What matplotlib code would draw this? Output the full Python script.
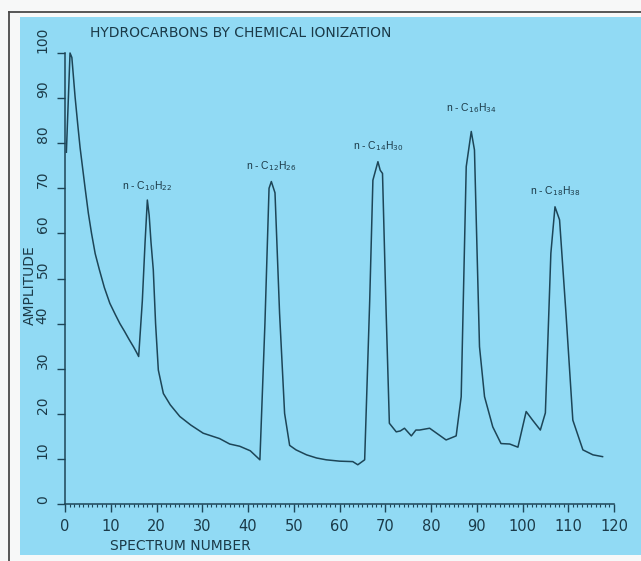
import matplotlib
matplotlib.use("Agg")
import matplotlib.pyplot as plt
from matplotlib.patches import Rectangle
from matplotlib.lines import Line2D
from matplotlib.ticker import MultipleLocator
from matplotlib import font_manager

# ---------------- data ----------------
spectrum = [0.3, 1.1, 1.5, 2.2, 2.8, 3.3, 4.4, 5.1, 5.8, 6.6, 7.5, 8.6, 9.8, 11.0,
            12.0, 13.0, 14.0, 15.0, 15.7, 16.1,
            16.9, 17.5, 18.0, 18.4, 18.8, 19.3, 19.8, 20.4, 21.5, 23.0, 25.1, 27.5,
            30.2, 33.8, 36.0, 38.2, 40.5, 42.6, 43.7, 44.6, 45.1, 45.9, 46.9, 48.0,
            49.1, 50.5, 52.8, 55.0, 57.1, 60.0, 62.9, 64.0, 65.5, 66.6, 67.3, 68.4,
            68.9, 69.4, 70.2, 70.9, 72.4, 73.3, 74.2, 75.7, 76.7, 77.5, 79.7, 81.5,
            83.3, 85.5, 86.6, 87.7, 88.8, 89.5, 90.6, 91.7, 93.5, 95.3, 97.2, 99.0,
            100.8, 102.2, 103.9, 105.0, 106.2, 107.1, 108.1, 109.5, 111.0, 113.2,
            115.4, 117.5]
amplitude = [78, 100, 99, 90.3, 84, 79, 70, 64.5, 60, 55.5, 52, 48, 44.5, 42,
             40, 38.3, 36.5, 34.8, 33.5, 32.7,
             45, 58, 67.4, 64, 58, 51.9, 40, 29.7, 24.5, 22, 19.4, 17.5,
             15.7, 14.5, 13.3, 12.8, 11.8, 9.8, 40, 70, 71.5, 69, 42.3, 20.1,
             13.0, 12.0, 10.9, 10.2, 9.8, 9.5, 9.4, 8.7, 9.8, 45, 71.8, 75.9,
             74, 73.3, 42.3, 17.9, 16.0, 16.2, 16.8, 15.1, 16.4, 16.4, 16.8, 15.5,
             14.2, 15.1, 23.8, 74.8, 82.6, 78.5, 34.9, 23.8, 17.1, 13.4, 13.3, 12.6,
             20.5, 18.6, 16.4, 20.2, 55.6, 65.9, 63, 42.3, 18.6, 12.0,
             10.9, 10.5]

peak_labels = [r"n - C$_{10}$H$_{22}$", r"n - C$_{12}$H$_{26}$", r"n - C$_{14}$H$_{30}$",
               r"n - C$_{16}$H$_{34}$", r"n - C$_{18}$H$_{38}$"]
peak_x = [18.0, 45.1, 68.4, 88.8, 107.1]
peak_y = [67.4, 71.5, 75.9, 82.6, 65.9]

x_ticks = list(range(0, 121, 10))
y_ticks = list(range(0, 101, 10))

title = "HYDROCARBONS BY CHEMICAL IONIZATION"
xlabel = "SPECTRUM NUMBER"
ylabel = "AMPLITUDE"

# ---------------- styling ----------------
W, H = 641, 561
BLUE = "#91daf4"
INK = "#1d4557"
TXT = "#1b3a48"
label_offsets = [10, 11, 11, 17, 11.5]   # points above each peak

names = {f.name for f in font_manager.fontManager.ttflist}
narrow = "Liberation Sans Narrow" if "Liberation Sans Narrow" in names else "DejaVu Sans"
helv = "Liberation Sans" if "Liberation Sans" in names else "DejaVu Sans"

fig = plt.figure(figsize=(W / 100, H / 100), dpi=100, facecolor="#f7f8f8")

def fx(px):
    return px / W

def fy(py):
    return 1 - py / H

# blue panel and frame lines
fig.add_artist(Rectangle((fx(20), fy(555)), fx(641) - fx(20), fy(17) - fy(555),
                         transform=fig.transFigure, facecolor=BLUE, edgecolor="none", zorder=0))
fig.add_artist(Line2D([fx(9), fx(9)], [0, fy(12)], transform=fig.transFigure,
                      color="#4a4a4a", lw=1.3))
fig.add_artist(Line2D([fx(9), 1], [fy(12), fy(12)], transform=fig.transFigure,
                      color="#4a4a4a", lw=1.3))

ax = fig.add_axes([fx(65), fy(504), fx(614) - fx(65), fy(53) - fy(504)])
ax.set_facecolor("none")
ax.plot(spectrum, amplitude, color=INK, lw=1.1, clip_on=False)

ax.set_xlim(0, 120)
ax.set_ylim(0, 100)
for s in ("top", "right"):
    ax.spines[s].set_visible(False)
for s in ("left", "bottom"):
    ax.spines[s].set_color(INK)
    ax.spines[s].set_linewidth(1.1)

ax.set_xticks(x_ticks)
ax.set_xticklabels([str(v) for v in x_ticks], fontfamily=narrow, fontsize=10.5, color=TXT)
ax.xaxis.set_minor_locator(MultipleLocator(1))
ax.tick_params(axis="x", which="major", length=5.5, width=1.0, color=INK, pad=5)
ax.tick_params(axis="x", which="minor", length=2.5, width=0.8, color=INK)

ax.set_yticks(y_ticks)
ax.set_yticklabels([str(v) for v in y_ticks], fontfamily=narrow, fontsize=10, color=TXT,
                   rotation=90, va="bottom")
ax.tick_params(axis="y", which="major", length=6, width=1.0, color=INK, pad=5)

for lab, px_, py_, off in zip(peak_labels, peak_x, peak_y, label_offsets):
    ax.annotate(lab, (px_, py_), xytext=(0, off), textcoords="offset points",
                ha="center", va="center", fontsize=7.5, fontfamily=helv, color=TXT)

fig.text(fx(90), fy(33), title, ha="left", va="center", fontsize=10, color=TXT)
fig.text(fx(110), fy(546), xlabel, ha="left", va="center", fontsize=10, color=TXT)
fig.text(fx(30), fy(285), ylabel, ha="center", va="center", rotation=90, fontsize=10, color=TXT)

fig.savefig("out.png", dpi=100, facecolor=fig.get_facecolor())
